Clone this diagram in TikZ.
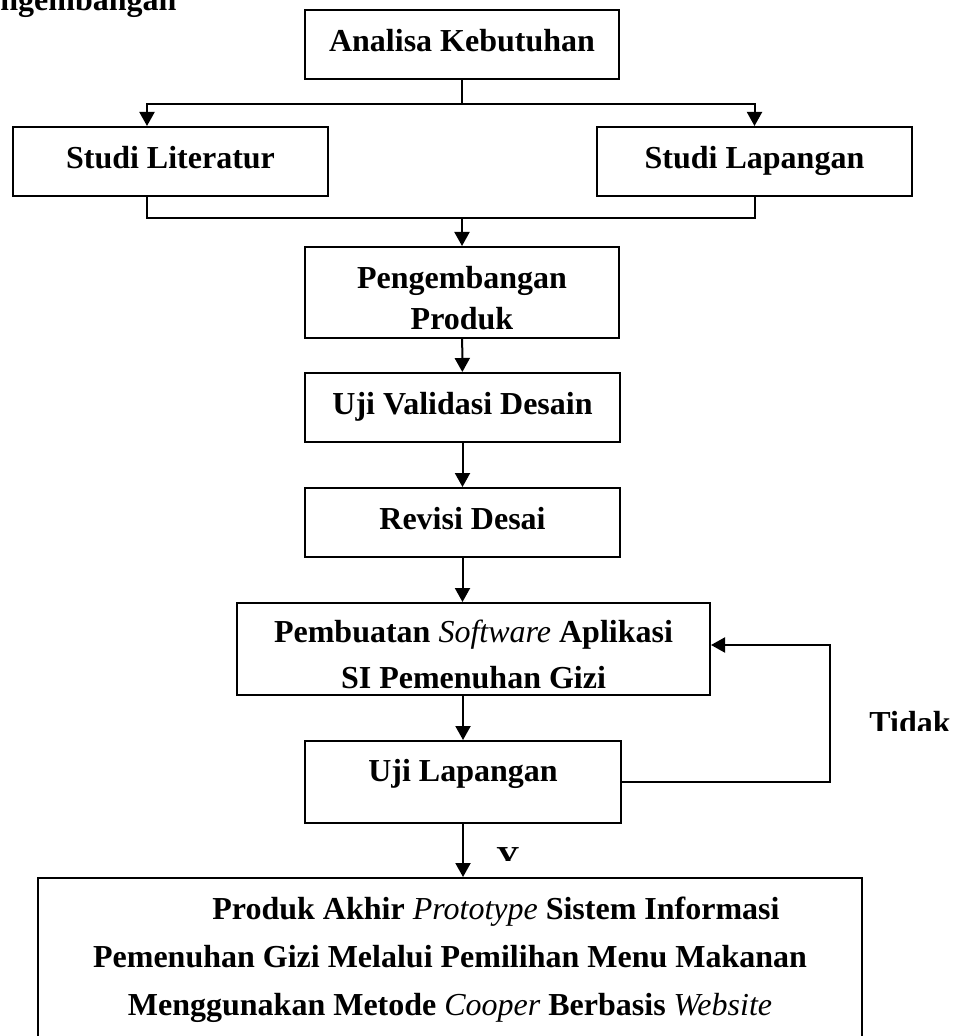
\documentclass[tikz,border=0pt]{standalone}
\usepackage{fontspec}
\setmainfont{Liberation Serif}
\usetikzlibrary{arrows.meta}

\newcommand{\itword}[1]{{\mdseries\itshape #1}}

\tikzset{
  stage/.style={draw, line width=1pt, align=center, inner sep=0pt,
    font=\bfseries\fontsize{16}{20.5}\selectfont},
  oneline/.style={text height=11.2pt, text depth=4pt},
  flow/.style={line width=1pt, -{Triangle[length=7pt,width=7.5pt]}},
  link/.style={line width=1pt},
  lbl/.style={font=\bfseries\fontsize{16}{20}\selectfont, inner sep=0pt, anchor=base west},
}

\begin{document}
\begin{tikzpicture}[x=0.5pt, y=-0.5pt]
\useasboundingbox (0,0) rectangle (954,1036);

\node[lbl] (judul) at (0,11) {ngembangan};

% kebutuhan dan studi
\node[stage, oneline, minimum width=157pt, minimum height=34.5pt] (analisa) at (462,44.5) {Analisa Kebutuhan};
\node[stage, oneline, minimum width=157.5pt, minimum height=34.5pt] (literatur) at (170.5,161.5) {Studi Literatur};
\node[stage, oneline, minimum width=157.5pt, minimum height=34.5pt] (lapangan) at (754.5,161.5) {Studi Lapangan};

% alur utama
\node[stage, minimum width=157pt, minimum height=45.5pt] (pengembangan) at (462,292.5) {\rule{0pt}{17pt}Pengembangan\\Produk};
\node[stage, oneline, minimum width=157.5pt, minimum height=34.5pt] (validasi) at (462.5,407.5) {Uji Validasi Desain};
\node[stage, oneline, minimum width=157.5pt, minimum height=34.5pt] (revisi) at (462.5,522.5) {Revisi Desai};
\node[stage, font=\bfseries\fontsize{16}{23}\selectfont, minimum width=236.5pt, minimum height=46pt] (pembuatan) at (473.5,649) {\rule{0pt}{17pt}Pembuatan \itword{Software} Aplikasi\\SI Pemenuhan Gizi};
\node[stage, text height=11.2pt, text depth=12.2pt, minimum width=158pt, minimum height=41pt] (ujilap) at (463,782) {Uji Lapangan};
\node[stage, align=flush center, font=\bfseries\fontsize{16}{24}\selectfont, text width=400pt, inner xsep=6pt, inner ysep=9.7pt, anchor=north] (akhir) at (450,877)
  {\hspace*{46pt}Produk Akhir \itword{Prototype} Sistem Informasi\\
   Pemenuhan Gizi Melalui Pemilihan Menu Makanan\\
   Menggunakan Metode \itword{Cooper} Berbasis \itword{Website}\\
   \strut};

% label keputusan
\begin{scope}
\clip (480,835) rectangle (540,860);
\node[lbl] (ya) at (496,868) {Y};
\end{scope}
\begin{scope}
\clip (860,700) rectangle (954,730);
\node[lbl] (tidak) at (869,733) {Tidak};
\end{scope}

% garis penghubung
\coordinate (split) at (462,104);
\coordinate (lsplit) at (147,104);
\coordinate (merge) at (462,218);
\coordinate (balik) at (830,645);

\draw[line width=0.6pt] (analisa.south) -- (split);
\draw[flow] (split) -| (lapangan.north);
\draw[flow] (split) -- (lsplit) -- (lsplit |- literatur.north);
\draw[link] (literatur.south -| lsplit) |- (merge) -| (lapangan.south);
\draw[flow] (merge) -- (pengembangan.north);
\draw[flow] (pengembangan) -- (validasi);
\draw[flow] (validasi) -- (revisi);
\draw[flow] (revisi.south) -- (revisi.south |- pembuatan.north);
\draw[flow] (ujilap.north |- pembuatan.south) -- (ujilap.north);
\draw[flow] (ujilap.south) -- (ujilap.south |- akhir.north);
\draw[flow] (ujilap.east) -| (balik) -- (pembuatan.east |- balik);
\end{tikzpicture}
\end{document}
